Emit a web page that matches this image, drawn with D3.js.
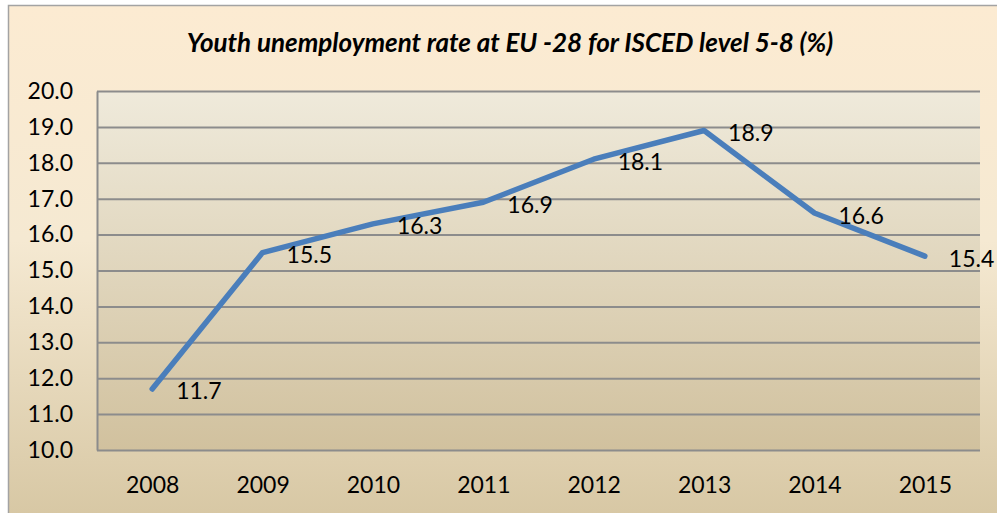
<!DOCTYPE html>
<html>
<head>
<meta charset="utf-8">
<script src="https://cdn.jsdelivr.net/npm/d3@7"></script>
<style>
  body { margin: 0; background: #fff; }
  svg { display: block; font-family: Lato, "Open Sans", sans-serif; }
</style>
</head>
<body>
<div id="chart"></div>
<script>
// chart data
const years = ["2008", "2009", "2010", "2011", "2012", "2013", "2014", "2015"]
const rates = [11.7, 15.5, 16.3, 16.9, 18.1, 18.9, 16.6, 15.4]
const yTicks = [10, 11, 12, 13, 14, 15, 16, 17, 18, 19, 20]
const chartTitle = "Youth unemployment rate at EU -28 for ISCED level 5-8 (%)"

const W = 997, H = 513
const plot = {left: 97, right: 980, top: 91, bottom: 450}
const fontSize = 23

const svg = d3.select("#chart").append("svg")
    .attr("width", W)
    .attr("height", H)

const defs = svg.append("defs")

// outer chart background gradient
const bgGrad = defs.append("linearGradient")
    .attr("id", "bgGrad").attr("x1", 0).attr("y1", 0).attr("x2", 0).attr("y2", 1)
bgGrad.append("stop").attr("offset", "0").attr("stop-color", "#fcebd2")
bgGrad.append("stop").attr("offset", "0.45").attr("stop-color", "#f5e9d2")
bgGrad.append("stop").attr("offset", "1").attr("stop-color", "#d6c6a2")

// plot area gradient
const plotGrad = defs.append("linearGradient")
    .attr("id", "plotGrad").attr("x1", 0).attr("y1", 0).attr("x2", 0).attr("y2", 1)
plotGrad.append("stop").attr("offset", "0").attr("stop-color", "#efeadb")
plotGrad.append("stop").attr("offset", "1").attr("stop-color", "#d1c19e")

svg.append("rect")
    .attr("x", 8.5).attr("y", 5.5)
    .attr("width", W + 10).attr("height", H + 10)
    .attr("fill", "url(#bgGrad)")
    .attr("stroke", "#a3a3a3")
    .attr("stroke-width", 1.5)

svg.append("rect")
    .attr("x", plot.left).attr("y", plot.top)
    .attr("width", plot.right - plot.left).attr("height", plot.bottom - plot.top)
    .attr("fill", "url(#plotGrad)")

// scales
const x = d3.scalePoint()
    .domain(years)
    .range([plot.left, plot.right])
    .padding(0.5)

const y = d3.scaleLinear()
    .domain([10, 20])
    .range([plot.bottom, plot.top])

// y axis + gridlines
const yAxis = svg.append("g")
    .attr("transform", `translate(${plot.left},0)`)
    .call(d3.axisLeft(y)
        .tickValues(yTicks)
        .tickFormat(d3.format(".1f"))
        .tickSizeInner(-(plot.right - plot.left))
        .tickSizeOuter(0)
        .tickPadding(24))
yAxis.select(".domain").attr("stroke", "#8c8c8c").attr("stroke-width", 2)
yAxis.selectAll(".tick line").attr("stroke", "#8c8c8c").attr("stroke-width", 2)
yAxis.selectAll(".tick text")
    .attr("font-size", fontSize)
    .attr("fill", "#000")
    .attr("font-family", "Lato, sans-serif")

// x axis labels
const xAxis = svg.append("g")
    .attr("transform", `translate(0,${plot.bottom})`)
    .call(d3.axisBottom(x).tickSize(0).tickPadding(27))
xAxis.select(".domain").remove()
xAxis.selectAll(".tick text")
    .attr("font-size", fontSize)
    .attr("fill", "#000")
    .attr("font-family", "Lato, sans-serif")

// the line
const line = d3.line()
    .x((d, i) => x(years[i]))
    .y(d => y(d))

svg.append("path")
    .datum(rates)
    .attr("fill", "none")
    .attr("stroke", "#4a7ebb")
    .attr("stroke-width", 5.5)
    .attr("stroke-linejoin", "round")
    .attr("stroke-linecap", "round")
    .attr("d", line)

// data labels to the right of each point
svg.append("g")
    .selectAll("text")
    .data(rates)
    .join("text")
    .attr("x", (d, i) => x(years[i]) + 24)
    .attr("y", d => y(d) + 10.5)
    .attr("font-size", fontSize)
    .attr("fill", "#000")
    .text(d => d3.format(".1f")(d))

// title
svg.append("text")
    .attr("x", 510)
    .attr("y", 52)
    .attr("text-anchor", "middle")
    .attr("font-size", 26)
    .attr("font-weight", "bold")
    .attr("font-style", "italic")
    .attr("fill", "#000")
    .text(chartTitle)
</script>
</body>
</html>
